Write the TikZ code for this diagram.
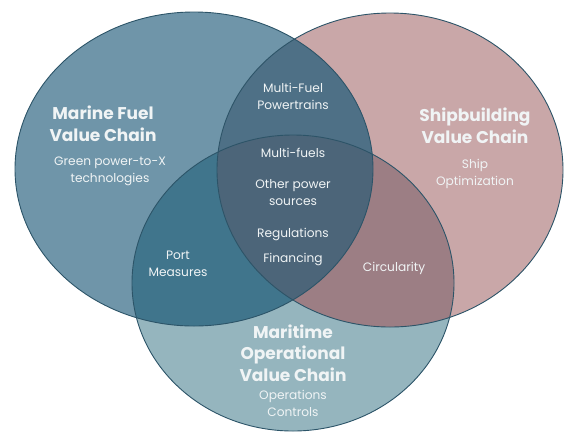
\documentclass[tikz,border=0pt]{standalone}
\usepackage{fontspec}
\setmainfont{Poppins}
\definecolor{fuelblue}{RGB}{111,149,169}
\definecolor{shippink}{RGB}{201,167,168}
\definecolor{opsteal}{RGB}{149,181,190}
\definecolor{fuelops}{RGB}{64,117,140}
\definecolor{fuelship}{RGB}{78,112,134}
\definecolor{shipops}{RGB}{156,126,132}
\definecolor{allthree}{RGB}{76,101,121}
\definecolor{rimline}{RGB}{44,84,104}
\definecolor{labeltext}{RGB}{240,244,245}
\tikzset{
  chaintitle/.style={text=labeltext, font=\bfseries\fontsize{17}{21.5}\selectfont, align=center},
  chainitem/.style={text=labeltext, font=\fontsize{12.2}{17}\selectfont, align=center},
}
\begin{document}
\begin{tikzpicture}[x=1pt,y=-1pt]
\useasboundingbox (0,0) rectangle (564,432);
\def\fuelset{(194,169) ellipse [x radius=179, y radius=157]}
\def\shipset{(390,170) ellipse [x radius=173, y radius=157]}
\def\opsset{(293,283) ellipse [x radius=161, y radius=148]}
% the three value chains
\fill[fuelblue] \fuelset;
\fill[shippink] \shipset;
\fill[opsteal] \opsset;
% overlaps
\begin{scope}
\clip \fuelset;
\fill[fuelops] \opsset;
\fill[fuelship] \shipset;
\end{scope}
\begin{scope}
\clip \shipset;
\fill[shipops] \opsset;
\end{scope}
\begin{scope}
\clip \fuelset; \clip \shipset;
\fill[allthree] \opsset;
\end{scope}
\foreach \set in {\fuelset,\shipset,\opsset}
\draw[rimline, line width=0.9pt] \set;
% labels
\node[chaintitle] (fueltitle) at (103,124) {Marine Fuel\\Value Chain};
\node[chainitem] (fuelitem) at (110,171) {Green power-to-X\\technologies};
\node[chaintitle] (shiptitle) at (475,126) {Shipbuilding\\Value Chain};
\node[chainitem] (shipitem) at (475,174) {Ship\\Optimization};
\node[chaintitle] (opstitle) at (293,353) {Maritime\\Operational\\Value Chain};
\node[chainitem] (opsitem) at (293,403) {Operations\\Controls};
\node[chainitem] (powertrains) at (293,96) {Multi-Fuel\\Powertrains};
\node[chainitem] (multifuels) at (293,153) {Multi-fuels};
\node[chainitem] (othersources) at (293,193) {Other power\\sources};
\node[chainitem] (regulations) at (293,234) {Regulations};
\node[chainitem] (financing) at (293,259) {Financing};
\node[chainitem] (port) at (178,264) {Port\\Measures};
\node[chainitem] (circularity) at (394,268) {Circularity};
\end{tikzpicture}
\end{document}
